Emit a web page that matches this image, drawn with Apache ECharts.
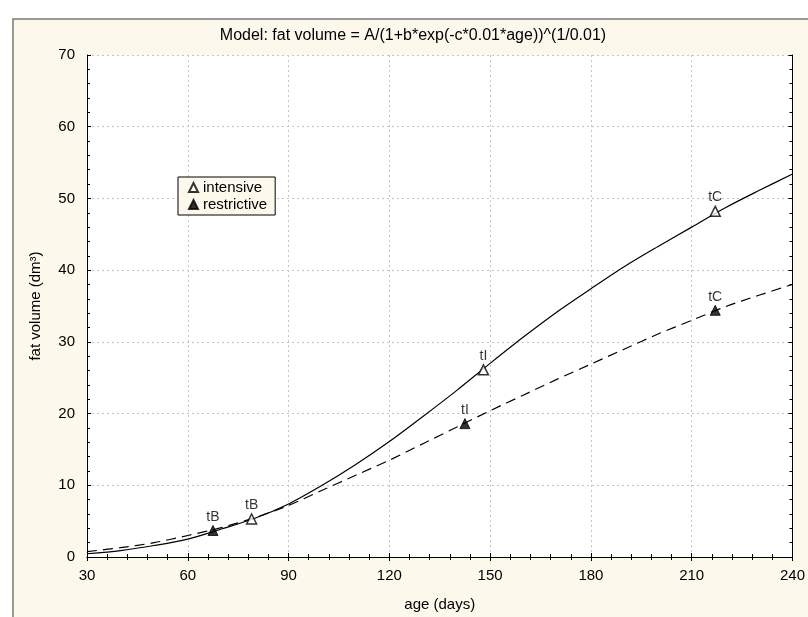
<!DOCTYPE html>
<html>
<head>
<meta charset="utf-8">
<script src="https://cdn.jsdelivr.net/npm/echarts@6/dist/echarts.min.js"></script>
<style>
  html, body { margin: 0; padding: 0; background: #fff; }
  #chart { width: 808px; height: 617px; }
</style>
</head>
<body>
<div id="chart"></div>
<script>
// fitted curves, every 10 days
const ages = [30, 40, 50, 60, 70, 80, 90, 100, 110, 120, 130, 140, 150, 160, 170, 180, 190, 200, 210, 220, 230, 240];
const intensiveFit = [0.45, 0.9, 1.6, 2.5, 3.9, 5.4, 7.4, 10.0, 12.9, 16.1, 19.6, 23.2, 27.0, 30.7, 34.2, 37.4, 40.5, 43.3, 46.0, 48.7, 51.1, 53.4];
const restrictiveFit = [0.75, 1.3, 2.0, 3.0, 4.1, 5.5, 7.2, 9.3, 11.4, 13.5, 15.8, 18.1, 20.4, 22.6, 24.8, 26.9, 29.0, 31.1, 33.0, 34.9, 36.5, 38.0];

// marked points tB / tI / tC
const pointLabels = ['tB', 'tI', 'tC'];
const intensiveAge = [79, 148, 217];
const intensiveVal = [5.3, 26.1, 48.2];
const restrictiveAge = [67.5, 142.5, 217];
const restrictiveVal = [3.7, 18.6, 34.4];

const xTicks = [30, 60, 90, 120, 150, 180, 210, 240];
const yTicks = [0, 10, 20, 30, 40, 50, 60, 70];

const font = 'Liberation Sans, Arial, sans-serif';
const zip = (a, b) => a.map((v, i) => [v, b[i]]);

const pointLabel = {
  show: true,
  position: 'top',
  distance: 1,
  color: '#000',
  fontFamily: font,
  fontSize: 14,
  formatter: p => pointLabels[p.dataIndex]
};

const baseX = {
  type: 'value',
  min: xTicks[0],
  max: xTicks[xTicks.length - 1],
  interval: 30,
  axisLine: { lineStyle: { color: '#000', width: 1 } },
  axisTick: { inside: true, length: 4, lineStyle: { color: '#000' } },
  minorTick: { show: true, splitNumber: 5, length: 3, lineStyle: { color: '#000' } }
};
const baseY = {
  type: 'value',
  min: yTicks[0],
  max: yTicks[yTicks.length - 1],
  interval: 10,
  axisLine: { show: true, lineStyle: { color: '#000', width: 1 } },
  axisTick: { show: true, inside: true, length: 4, lineStyle: { color: '#000' } },
  minorTick: { show: true, splitNumber: 5, length: 3, lineStyle: { color: '#000' } }
};

const option = {
  backgroundColor: '#fff',
  animation: false,
  graphic: [
    {
      type: 'rect', z: -10,
      shape: { x: 13, y: 19, width: 900, height: 700 },
      style: { fill: '#fdf8ec', stroke: '#7a7a7a', lineWidth: 1.5 }
    },
    {
      type: 'text', x: 413, y: 36,
      style: {
        text: 'Model: fat volume = A/(1+b*exp(-c*0.01*age))^(1/0.01)',
        font: '16px ' + font, fill: '#000',
        textAlign: 'center', textVerticalAlign: 'middle'
      }
    }
  ],
  grid: {
    left: 87, right: 14, top: 55, bottom: 52,
    show: true, backgroundColor: '#fff', borderWidth: 0
  },
  legend: {
    data: ['intensive', 'restrictive'],
    orient: 'vertical',
    left: 178, top: 177,
    padding: [3, 8, 3, 10],
    itemGap: 2,
    itemWidth: 9, itemHeight: 9,
    backgroundColor: '#fdf8ec',
    borderColor: '#000', borderWidth: 1,
    textStyle: { color: '#000', fontFamily: font, fontSize: 15 }
  },
  xAxis: [
    Object.assign({}, baseX, {
      position: 'bottom',
      name: 'age (days)', nameLocation: 'middle', nameGap: 40,
      nameTextStyle: { color: '#000', fontFamily: font, fontSize: 15 },
      axisLabel: { color: '#000', fontFamily: font, fontSize: 15, margin: 11 },
      splitLine: { show: true, lineStyle: { color: '#c4c4c4', type: [2, 3] } }
    }),
    Object.assign({}, baseX, {
      position: 'top',
      axisLabel: { show: false },
      splitLine: { show: false }
    })
  ],
  yAxis: [
    Object.assign({}, baseY, {
      position: 'left',
      name: 'fat volume (dm³)', nameLocation: 'middle', nameGap: 44,
      nameTextStyle: { color: '#000', fontFamily: font, fontSize: 15 },
      axisLabel: { color: '#000', fontFamily: font, fontSize: 15, margin: 12 },
      splitLine: { show: true, lineStyle: { color: '#c4c4c4', type: [2, 3] } }
    }),
    Object.assign({}, baseY, {
      position: 'right',
      axisLabel: { show: false },
      splitLine: { show: false }
    })
  ],
  series: [
    {
      name: 'intensive fit', type: 'line', smooth: 0.3, showSymbol: false,
      data: zip(ages, intensiveFit),
      lineStyle: { color: '#000', width: 1.2, type: 'solid' }, z: 3
    },
    {
      name: 'restrictive fit', type: 'line', smooth: 0.3, showSymbol: false,
      data: zip(ages, restrictiveFit),
      lineStyle: { color: '#000', width: 1.2, type: [10, 6] }, z: 3
    },
    {
      name: 'intensive', type: 'scatter', symbol: 'triangle', symbolSize: [10, 10],
      data: zip(intensiveAge, intensiveVal),
      itemStyle: { color: '#fff', borderColor: '#000', borderWidth: 1.5 },
      label: pointLabel, z: 5
    },
    {
      name: 'restrictive', type: 'scatter', symbol: 'triangle', symbolSize: [10, 10],
      data: zip(restrictiveAge, restrictiveVal),
      itemStyle: { color: '#000', borderColor: '#000', borderWidth: 1 },
      label: pointLabel, z: 5
    }
  ]
};

const myChart = echarts.init(document.getElementById('chart'));
myChart.setOption(option);
</script>
</body>
</html>
